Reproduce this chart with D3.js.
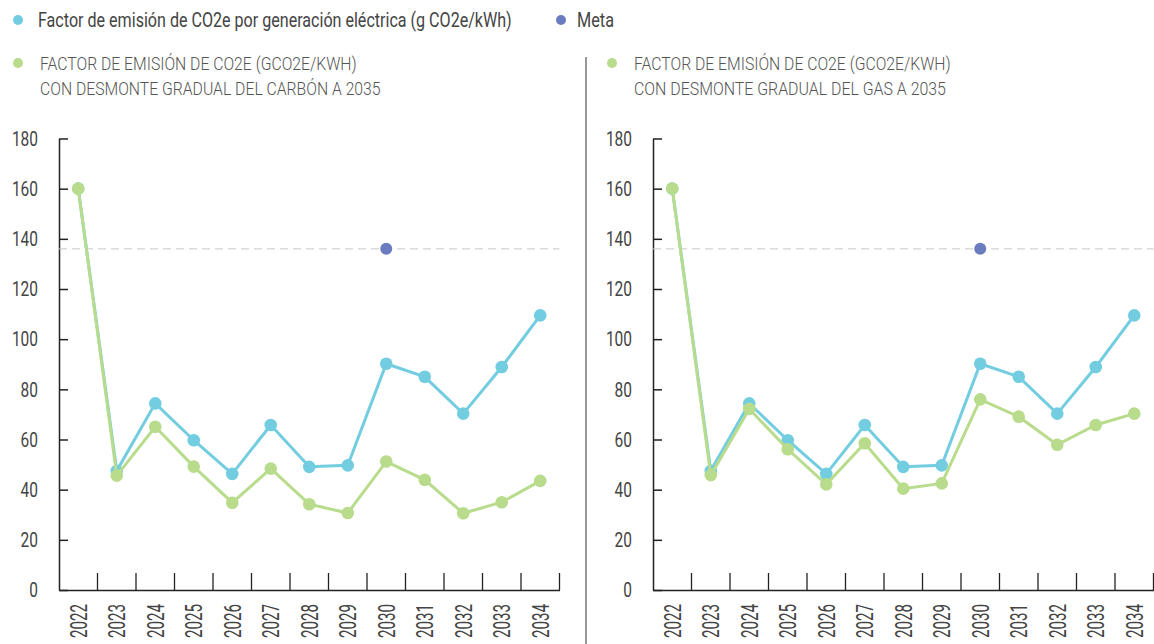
<!DOCTYPE html>
<html lang="es">
<head>
<meta charset="UTF-8" />
<title>Factor de emisión</title>
<script src="https://cdn.jsdelivr.net/npm/d3@7"></script>
<style>
  body { margin: 0; background: #fff; }
  text { font-family: "Liberation Sans Narrow", "Arial Narrow", Roboto, sans-serif; fill: #444; }
</style>
</head>
<body>
<script>
    // datos
    const years = ["2022", "2023", "2024", "2025", "2026", "2027", "2028", "2029", "2030", "2031", "2032", "2033", "2034"];
    const yTicks = [0, 20, 40, 60, 80, 100, 120, 140, 160, 180];
    const factorBase = [160, 47.5, 74.4, 59.7, 46.3, 65.8, 49.1, 49.7, 90.2, 85.0, 70.3, 88.9, 109.5];
    const factorCarbon = [160, 45.6, 65.1, 49.2, 34.8, 48.4, 34.2, 30.7, 51.2, 43.9, 30.6, 35.0, 43.5];
    const factorGas = [160, 45.8, 72.2, 56.1, 42.1, 58.5, 40.4, 42.5, 76.0, 69.1, 57.9, 65.8, 70.3];
    const metaYear = "2030";
    const metaValue = 136;

    const legendBase = "Factor de emisión de CO2e por generación eléctrica (g CO2e/kWh)";
    const legendMeta = "Meta";
    const titleCarbon = ["FACTOR DE EMISIÓN DE CO2E (GCO2E/KWH)", "CON DESMONTE GRADUAL DEL CARBÓN A 2035"];
    const titleGas = ["FACTOR DE EMISIÓN DE CO2E (GCO2E/KWH)", "CON DESMONTE GRADUAL DEL GAS A 2035"];

    const cBlue = "#72cde1";
    const cGreen = "#b8dc8c";
    const cMeta = "#6b7bbf";

    let w = 1154;
    let h = 644;

    let svg = d3.select("body").append("svg")
        .attr("width", w)
        .attr("height", h);

    // comprime un texto a un ancho dado (la fuente original es condensada)
    function squeeze(sel, width) {
        sel.attr("textLength", width).attr("lengthAdjust", "spacingAndGlyphs");
    }

    // texto de leyenda: se escala horizontalmente con un transform
    function label(parent, x, y, txt, size, width, color, weight) {
        let gt = parent.append("g");
        let t = gt.append("text")
            .attr("dy", "0.35em")
            .style("font-size", size + "px")
            .style("fill", color)
            .style("font-weight", weight)
            .text(txt);
        let k = width / t.node().getComputedTextLength();
        gt.attr("transform", "translate(" + x + "," + y + ") scale(" + k + ",1)");
        return gt;
    }

    let y = d3.scaleLinear().domain([0, 180]).range([590, 138.5]);

    // leyenda superior
    let leg = svg.append("g");
    leg.append("circle").attr("cx", 18).attr("cy", 20).attr("r", 5).attr("fill", cBlue);
    label(leg, 38, 20, legendBase, 20, 474, "#444", 400);
    leg.append("circle").attr("cx", 561).attr("cy", 20).attr("r", 5).attr("fill", cMeta);
    label(leg, 577, 20, legendMeta, 20, 37, "#444", 400);

    // separador
    svg.append("line")
        .attr("x1", 586).attr("x2", 586).attr("y1", 57).attr("y2", 644)
        .attr("stroke", "#333").attr("stroke-width", 1);

    const panels = [
        { x0: 59, x1: 559.5, lx: 18, green: factorCarbon, title: titleCarbon, widths: [317, 341] },
        { x0: 653, x1: 1153.5, lx: 612, green: factorGas, title: titleGas, widths: [317, 312] }
    ];

    panels.forEach(function (p) {
        let g = svg.append("g");

        // titulo / leyenda del panel
        g.append("circle").attr("cx", p.lx).attr("cy", 63).attr("r", 5).attr("fill", cGreen);
        p.title.forEach(function (t, i) {
            label(g, p.lx + 22, 63 + i * 25, t, 19, p.widths[i], "#555", 300);
        });

        let x = d3.scaleBand().domain(years).range([p.x0, p.x1]);
        let cx = function (d) { return x(d) + x.bandwidth() / 2; };

        // eje y
        let ay = g.append("g")
            .attr("transform", "translate(" + p.x0 + ",0)")
            .call(d3.axisLeft(y).tickValues(yTicks).tickSizeInner(-9).tickSizeOuter(0).tickPadding(21));
        ay.select(".domain").attr("stroke", "#222").attr("stroke-width", 1.5);
        ay.selectAll(".tick line").attr("stroke", "#222").attr("stroke-width", 1.5);
        ay.selectAll(".tick text").style("font-size", "21px").style("fill", "#444")
            .attr("font-family", null)
            .each(function (d) { d3.select(this).call(squeeze, String(d).length * 8.7); });

        // eje x
        let ax = g.append("g")
            .attr("transform", "translate(0,590)")
            .call(d3.axisBottom(x).tickSize(0).tickSizeOuter(0));
        ax.select(".domain").attr("stroke", "#222").attr("stroke-width", 1.5);
        ax.selectAll(".tick text")
            .attr("y", 0).attr("x", 0).attr("dy", "0.35em")
            .attr("text-anchor", "end")
            .attr("transform", "translate(0,14) rotate(-90)")
            .style("font-size", "24px").style("fill", "#444")
            .each(function () { d3.select(this).call(squeeze, 34); });

        // marcas entre categorias, hacia arriba
        g.selectAll(".bnd").data(years).enter().append("line")
            .attr("x1", function (d) { return x(d) + x.bandwidth(); })
            .attr("x2", function (d) { return x(d) + x.bandwidth(); })
            .attr("y1", y(0)).attr("y2", y(0) - 17)
            .attr("stroke", "#222").attr("stroke-width", 1.3);

        // linea de meta
        g.append("line")
            .attr("x1", p.x0).attr("x2", p.x1)
            .attr("y1", y(metaValue)).attr("y2", y(metaValue))
            .attr("stroke", "#c8c8c8").attr("stroke-width", 1)
            .attr("stroke-dasharray", "8,5");

        g.append("circle")
            .attr("cx", cx(metaYear)).attr("cy", y(metaValue))
            .attr("r", 6).attr("fill", cMeta);

        // series
        let line = d3.line()
            .x(function (d, i) { return cx(years[i]); })
            .y(function (d) { return y(d); });

        [[factorBase, cBlue], [p.green, cGreen]].forEach(function (s) {
            g.append("path")
                .datum(s[0])
                .attr("d", line)
                .attr("fill", "none")
                .attr("stroke", s[1])
                .attr("stroke-width", 3);
            g.selectAll(null).data(s[0]).enter().append("circle")
                .attr("cx", function (d, i) { return cx(years[i]); })
                .attr("cy", function (d) { return y(d); })
                .attr("r", 6.3)
                .attr("fill", s[1]);
        });
    });
</script>
</body>
</html>
